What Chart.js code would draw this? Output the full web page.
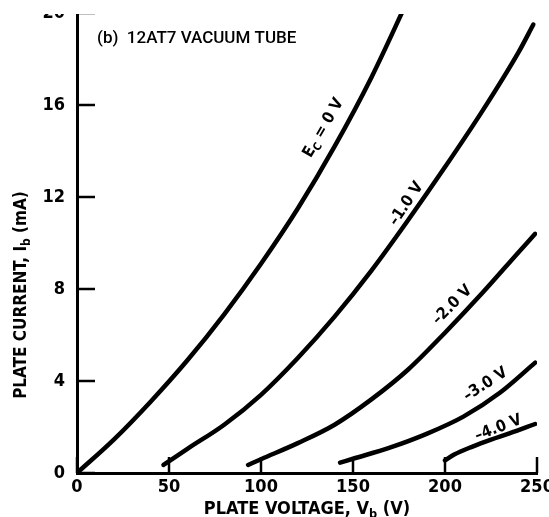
<!DOCTYPE html>
<html>
<head>
<meta charset="utf-8">
<script src="https://cdn.jsdelivr.net/npm/chart.js@4.4.1/dist/chart.umd.min.js"></script>
<style>
    body { margin: 0; background: #fff; }
    #moldura { position: absolute; left: 0; top: 14px; width: 549px; height: 503px; overflow: hidden; background: #fff; }
    #GraficoValvula { position: absolute; left: 0; top: -14px; }
</style>
</head>
<body>
<div id="moldura"><canvas id="GraficoValvula" width="549" height="517"></canvas></div>
<script>
/*Dados (Vb em volts, Ib em mA)*/
var voltsEc0 = [0, 20, 40, 60, 80, 100, 120, 140, 160, 180];
var mAEc0 = [0, 1.45, 3.1, 4.9, 6.9, 9.1, 11.5, 14.2, 17.2, 20.6];

var voltsEc1 = [47, 60, 80, 100, 120, 140, 160, 180, 200, 220, 240, 248];
var mAEc1 = [0.35, 1.05, 2.1, 3.4, 5.0, 6.8, 8.8, 11.0, 13.3, 15.7, 18.3, 19.5];

var voltsEc2 = [93, 100, 120, 140, 160, 180, 200, 220, 240, 249];
var mAEc2 = [0.35, 0.6, 1.3, 2.1, 3.2, 4.5, 6.1, 7.8, 9.6, 10.4];

var voltsEc3 = [143, 150, 170, 190, 210, 230, 249];
var mAEc3 = [0.45, 0.62, 1.1, 1.7, 2.45, 3.5, 4.8];

var voltsEc4 = [200, 205, 215, 225, 235, 249];
var mAEc4 = [0.55, 0.8, 1.15, 1.45, 1.72, 2.13];

var ticksX = [0, 50, 100, 150, 200, 250];
var ticksY = [0, 4, 8, 12, 16, 20];

/*Rotulos das curvas: texto em partes [texto, subscrito], posicao em Vb/Ib e angulo*/
var rotulosTexto = [
    [['E', 0], ['C', 1], [' = 0 V', 0]],
    [['\u20131.0 V', 0]],
    [['\u20132.0 V', 0]],
    [['\u20133.0 V', 0]],
    [['\u20134.0 V', 0]]
];
var rotulosV = [134, 179, 204, 222, 229];
var rotulosI = [15.0, 11.7, 7.3, 3.85, 1.95];
var rotulosAngulo = [-60, -56, -45, -33, -21];

var fonteEstreita = "'Liberation Sans Narrow', 'DejaVu Sans Condensed', sans-serif";

/*Função Montar Pontos*/
function MontarPontos(volts, mA) {
    var pontos = [];
    var indice = 0;

    while (indice < volts.length) {
        pontos.push({ x: volts[indice], y: mA[indice] });
        indice++;
    }

    return pontos;
}

/*Função Montar Serie*/
function MontarSerie(nome, volts, mA) {
    return {
        label: nome,
        data: MontarPontos(volts, mA),
        showLine: true,
        borderColor: "#000",
        borderWidth: 4.5,
        borderCapStyle: "round",
        borderJoinStyle: "round",
        pointRadius: 0,
        cubicInterpolationMode: "monotone",
        fill: false
    };
}

/*Função Texto com subscrito, centralizado em (0,0)*/
function TextoSubscrito(ctx, partes, tamanho, peso, familia) {
    var largura = 0;
    partes.forEach(function (p) {
        ctx.font = peso + " " + (p[1] ? tamanho * 0.7 : tamanho) + "px " + familia;
        largura += ctx.measureText(p[0]).width;
    });
    var x = -largura / 2;
    ctx.textBaseline = "middle";
    ctx.textAlign = "left";
    partes.forEach(function (p) {
        ctx.font = peso + " " + (p[1] ? tamanho * 0.7 : tamanho) + "px " + familia;
        ctx.fillText(p[0], x, p[1] ? tamanho * 0.3 : 0);
        x += ctx.measureText(p[0]).width;
    });
}

/*Plugin dos textos, ticks internos e titulos*/
var pluginTextos = {
    id: "textosValvula",
    afterDraw: function (chart) {
        var ctx = chart.ctx;
        var sx = chart.scales.x;
        var sy = chart.scales.y;
        var area = chart.chartArea;

        ctx.save();
        ctx.strokeStyle = "#000";
        ctx.fillStyle = "#000";
        ctx.lineWidth = 2.5;

        /*ticks para dentro*/
        ticksY.forEach(function (v) {
            var py = sy.getPixelForValue(v);
            ctx.beginPath();
            ctx.moveTo(area.left, py);
            ctx.lineTo(area.left + 18, py);
            ctx.stroke();
        });
        ticksX.forEach(function (v) {
            var px = sx.getPixelForValue(v);
            ctx.beginPath();
            ctx.moveTo(px, area.bottom);
            ctx.lineTo(px, area.bottom - 16);
            ctx.stroke();
        });

        /*rotulos das curvas*/
        var indice = 0;
        while (indice < rotulosTexto.length) {
            ctx.save();
            ctx.translate(sx.getPixelForValue(rotulosV[indice]), sy.getPixelForValue(rotulosI[indice]));
            ctx.rotate(rotulosAngulo[indice] * Math.PI / 180);
            TextoSubscrito(ctx, rotulosTexto[indice], 16, "bold", fonteEstreita);
            ctx.restore();
            indice++;
        }

        /*titulo do painel*/
        ctx.save();
        ctx.translate(area.left + 20, sy.getPixelForValue(18.9));
        ctx.font = "500 17px Roboto";
        ctx.textAlign = "left";
        ctx.textBaseline = "middle";
        ctx.fillText("(b)  12AT7 VACUUM TUBE", 0, 0);
        ctx.restore();

        /*titulos dos eixos*/
        ctx.save();
        ctx.translate((area.left + area.right) / 2 + 0, area.bottom + 36);
        TextoSubscrito(ctx, [["PLATE VOLTAGE, V", 0], ["b", 1], [" (V)", 0]], 18, "bold", fonteEstreita);
        ctx.restore();

        ctx.save();
        ctx.translate(22, 295);
        ctx.rotate(-Math.PI / 2);
        TextoSubscrito(ctx, [["PLATE CURRENT, I", 0], ["b", 1], [" (mA)", 0]], 17, "bold", fonteEstreita);
        ctx.restore();

        ctx.restore();
    }
};

/*Construção do gráfico*/
var ctx = document.getElementById("GraficoValvula").getContext("2d");

var grafico = new Chart(ctx, {
    type: "scatter",
    data: {
        datasets: [
            MontarSerie("Ec = 0 V", voltsEc0, mAEc0),
            MontarSerie("-1.0 V", voltsEc1, mAEc1),
            MontarSerie("-2.0 V", voltsEc2, mAEc2),
            MontarSerie("-3.0 V", voltsEc3, mAEc3),
            MontarSerie("-4.0 V", voltsEc4, mAEc4)
        ]
    },
    options: {
        responsive: false,
        animation: false,
        layout: { padding: { left: 0, right: 12, top: 13, bottom: 0 } },
        plugins: {
            legend: { display: false },
            tooltip: { enabled: false },
            title: { display: false }
        },
        scales: {
            x: {
                type: "linear",
                min: 0,
                max: 250,
                afterBuildTicks: function (escala) {
                    escala.ticks = ticksX.map(function (v) { return { value: v }; });
                },
                afterFit: function (escala) {
                    escala.height = 44;
                    escala.paddingLeft = 0;
                    escala.paddingRight = 0;
                },
                grid: { drawOnChartArea: false, drawTicks: false },
                border: { color: "#000", width: 3 },
                ticks: {
                    padding: 4,
                    color: "#000",
                    maxRotation: 0,
                    font: { family: fonteEstreita, size: 18, weight: "bold" }
                }
            },
            y: {
                type: "linear",
                min: 0,
                max: 20,
                afterBuildTicks: function (escala) {
                    escala.ticks = ticksY.map(function (v) { return { value: v }; });
                },
                afterFit: function (escala) {
                    escala.width = 77;
                    escala.paddingTop = 0;
                    escala.paddingBottom = 0;
                },
                grid: { drawOnChartArea: false, drawTicks: false },
                border: { color: "#000", width: 3 },
                ticks: {
                    padding: 12,
                    color: "#000",
                    font: { family: fonteEstreita, size: 18, weight: "bold" }
                }
            }
        }
    },
    plugins: [pluginTextos]
});
</script>
</body>
</html>
